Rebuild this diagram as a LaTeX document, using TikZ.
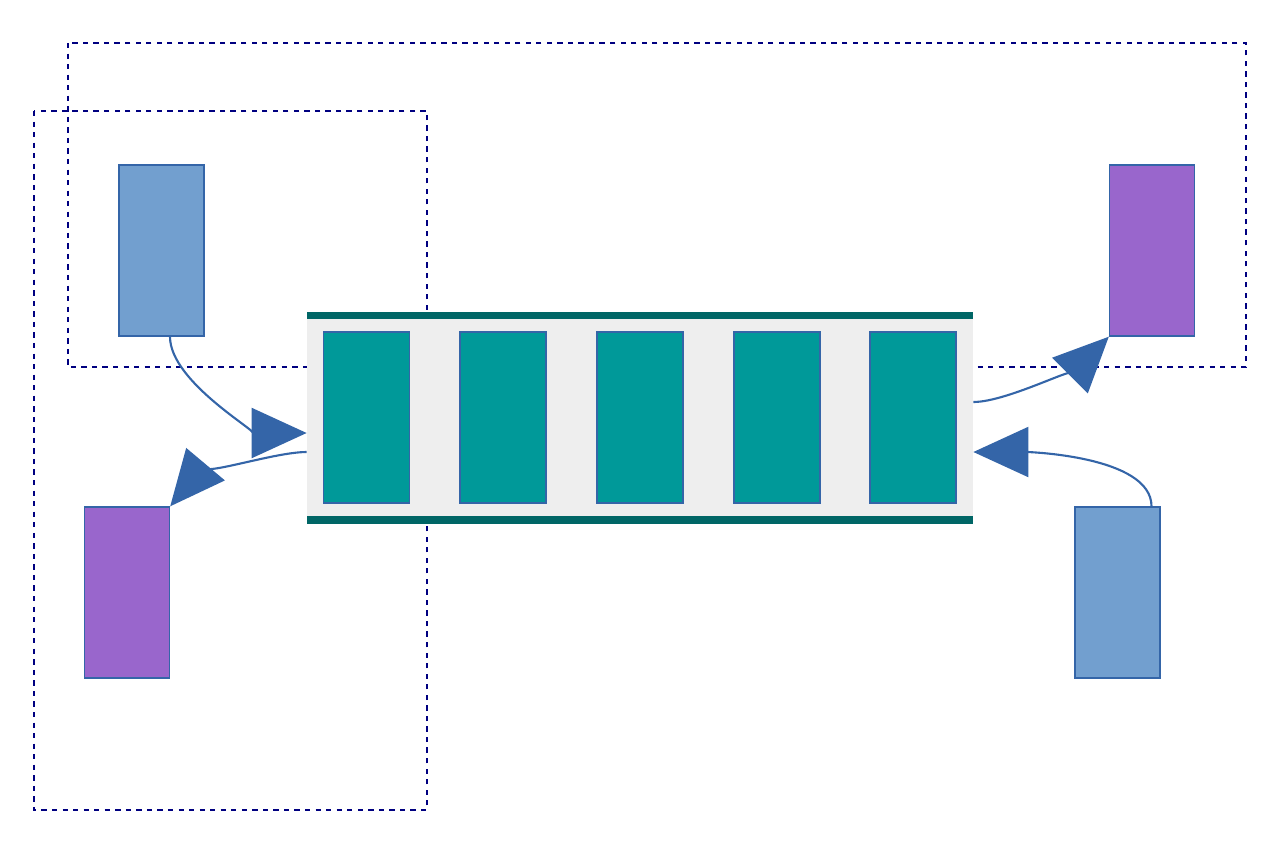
\documentclass[tikz,border=0pt]{standalone}
\usetikzlibrary{positioning,arrows.meta,calc}
\definecolor{navyline}{HTML}{000080}
\definecolor{edgeblue}{HTML}{3465A8}
\definecolor{lightblue}{HTML}{729FCF}
\definecolor{lilac}{HTML}{9966CC}
\definecolor{teal}{HTML}{009999}
\definecolor{darkteal}{HTML}{006666}
\definecolor{lightgray}{HTML}{EEEEEE}
\tikzset{
    group/.style = {
        draw=navyline,
        dashed,
        line width=0.9pt
    },
    client/.style = {
        draw=edgeblue,
        shape=rectangle,
        minimum width=1.7cm,
        minimum height=3.42cm,
        line width=0.8pt
    },
    slot/.style = {
        draw=edgeblue,
        fill=teal,
        shape=rectangle,
        minimum width=1.72cm,
        minimum height=3.42cm,
        line width=0.8pt
    },
    flow/.style = {
        draw=edgeblue,
        line width=1.2pt,
        -{Triangle[length=1.1cm,width=1cm]}
    },
}

\begin{document}
\begin{tikzpicture}
        \useasboundingbox (0,0) rectangle (25.6,-17.08);

        \draw[group] (1.36,-0.86) rectangle (24.92,-7.34);
        \draw[group] (0.68,-2.22) rectangle (8.54,-16.2);

        \node[fill=lightgray, minimum width=13.32cm, minimum height=4.24cm, inner sep=0] (queue) at (12.8,-8.36) {};
        \fill[darkteal] (queue.north west) rectangle ($(queue.north east)+(0,-0.15)$);
        \fill[darkteal] (queue.south west) rectangle ($(queue.south east)+(0,0.16)$);

        \node[slot] (slot0) at (7.33,-8.35) {};
        \node[slot] (slot1) at (10.06,-8.35) {};
        \node[slot] (slot2) at (12.8,-8.35) {};
        \node[slot] (slot3) at (15.54,-8.35) {};
        \node[slot] (slot4) at (18.26,-8.35) {};

        \node[client, fill=lightblue] (prod0) at (3.23,-5.01) {};
        \node[client, fill=lilac] (cons0) at (2.54,-11.85) {};
        \node[client, fill=lilac] (cons1) at (23.04,-5.01) {};
        \node[client, fill=lightblue] (prod1) at (22.35,-11.85) {};

        \path[flow] ([xshift=0.17cm]prod0.south) to[out=-90, in=180, looseness=0.7] ([yshift=-0.3cm]queue.west);
        \path[flow] ([yshift=-0.68cm]queue.west) to[out=180, in=50, looseness=0.6] (cons0.north east);
        \path[flow] ([yshift=0.32cm]queue.east) to[out=0, in=225, looseness=0.6] (cons1.south west);
        \path[flow] ([xshift=0.68cm]prod1.north) to[out=90, in=0, looseness=0.7] ([yshift=-0.68cm]queue.east);

    \end{tikzpicture}
\end{document}
